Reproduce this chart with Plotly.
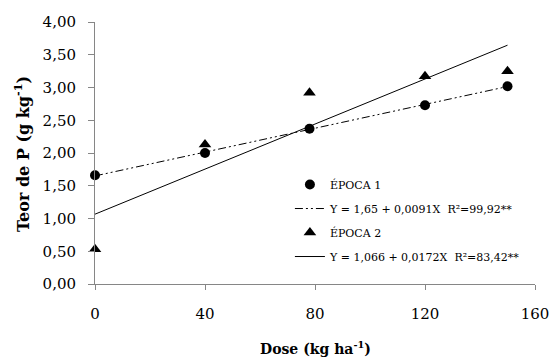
import plotly.graph_objects as go

dose = [0, 40, 78, 120, 150]
epoca1 = [1.66, 2.00, 2.37, 2.73, 3.02]
epoca2 = [0.53, 2.13, 2.92, 3.17, 3.25]

fit_x = [0, 150]
fit1_coef = (1.65, 0.0091)
fit2_coef = (1.066, 0.0172)
fit1_y = [fit1_coef[0] + fit1_coef[1] * x for x in fit_x]
fit2_y = [fit2_coef[0] + fit2_coef[1] * x for x in fit_x]

x_ticks = [0, 40, 80, 120, 160]
y_ticks = [0, 0.5, 1, 1.5, 2, 2.5, 3, 3.5, 4]
y_tick_labels = ["0,00", "0,50", "1,00", "1,50", "2,00", "2,50", "3,00", "3,50", "4,00"]

FONT = "DejaVu Serif"
AX = "#868686"

fig = go.Figure()
fig.add_trace(go.Scatter(x=dose, y=epoca1, mode="markers", name="ÉPOCA 1", legendgroup="a",
                         marker=dict(symbol="circle", size=10, color="black"), cliponaxis=False))
fig.add_trace(go.Scatter(x=fit_x, y=fit1_y, mode="lines", name="Y = 1,65 + 0,0091X  R²=99,92**", legendgroup="b",
                         line=dict(color="black", width=1, dash="8px,3px,2px,3px,2px,3px")))
fig.add_trace(go.Scatter(x=dose, y=epoca2, mode="markers", name="ÉPOCA 2", legendgroup="c",
                         marker=dict(symbol="triangle-up", size=11, color="black"), cliponaxis=False))
fig.add_trace(go.Scatter(x=fit_x, y=fit2_y, mode="lines", name="Y = 1,066 + 0,0172X  R²=83,42**", legendgroup="d",
                         line=dict(color="black", width=1)))

fig.update_layout(
    width=550, height=362,
    margin=dict(l=95, r=15, t=22, b=78),
    paper_bgcolor="white", plot_bgcolor="white",
    font=dict(family=FONT, color="black"),
    showlegend=True,
    legend=dict(x=0.443, y=0.435, xanchor="left", yanchor="top",
                font=dict(family=FONT, size=11, color="black"),
                bgcolor="rgba(0,0,0,0)", tracegroupgap=5),
    xaxis=dict(range=[0, 160], tickvals=x_ticks, ticktext=[str(v) for v in x_ticks],
               showgrid=False, zeroline=False, showline=True, linecolor=AX, linewidth=1,
               ticks="outside", ticklen=5, tickcolor=AX, automargin=False, ticklabelstandoff=11,
               tickfont=dict(family=FONT, size=15, color="black")),
    yaxis=dict(range=[0, 4], tickvals=y_ticks, ticktext=y_tick_labels,
               showgrid=False, zeroline=False, showline=True, linecolor=AX, linewidth=1,
               ticks="outside", ticklen=6, tickcolor=AX, automargin=False, ticklabelstandoff=9,
               tickfont=dict(family=FONT, size=15, color="black")),
    annotations=[
        dict(text="<b>Dose (kg ha<sup>-1</sup>)</b>", xref="paper", yref="paper", x=0.5, y=-0.243,
             xanchor="center", yanchor="middle", showarrow=False,
             font=dict(family=FONT, size=14, color="black")),
        dict(text="<b>Teor de P (g kg<sup>-1</sup>)</b>", xref="paper", yref="paper", x=-0.166, y=0.496,
             xanchor="center", yanchor="middle", showarrow=False, textangle=-90,
             font=dict(family=FONT, size=16, color="black")),
    ],
)

fig.write_html("out.html")
